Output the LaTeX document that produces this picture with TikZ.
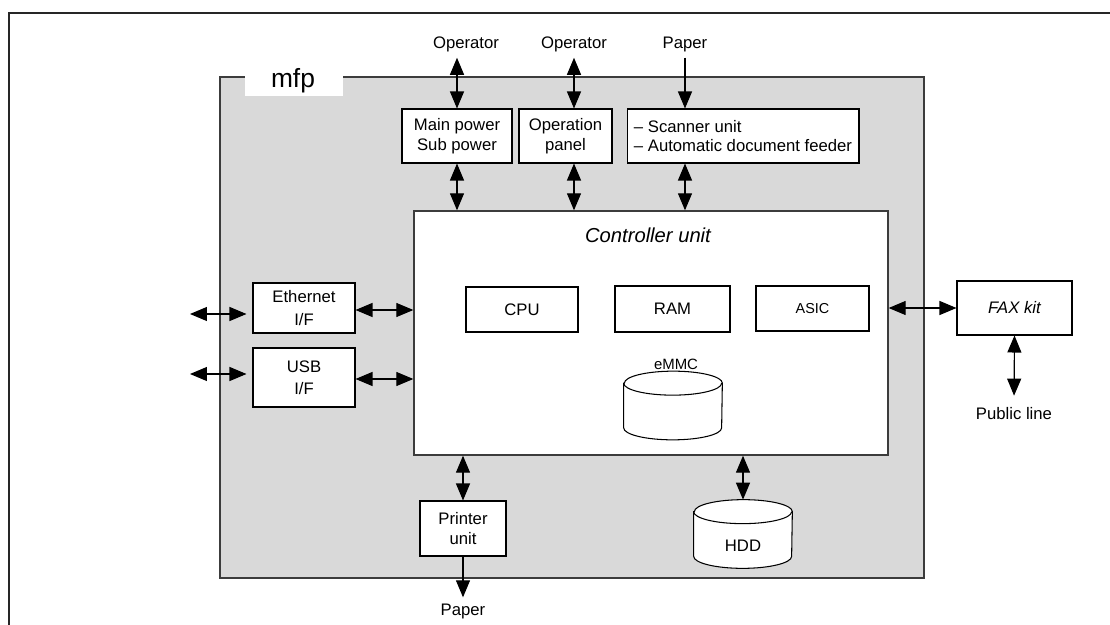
\documentclass[tikz,border=0pt]{standalone}
\usepackage{fontspec}
\setmainfont{Liberation Sans}
\usetikzlibrary{arrows.meta}

\definecolor{mfpgray}{RGB}{217,217,217}
\definecolor{mfpedge}{RGB}{60,60,60}

% upright disk outline round a named (empty) node
\newcommand{\drawdrum}[1]{%
  \draw[fill=white, line width=0.6pt] ([yshift=-0.24cm]#1.north west) -- ([yshift=0.24cm]#1.south west)
    arc[start angle=180, end angle=360, x radius=0.98cm, y radius=0.24cm]
    -- ([yshift=-0.24cm]#1.north east)
    arc[start angle=0, end angle=180, x radius=0.98cm, y radius=0.24cm] -- cycle;
  \draw[line width=0.6pt] ([yshift=-0.24cm]#1.north west)
    arc[start angle=180, end angle=360, x radius=0.98cm, y radius=0.24cm];}

\begin{document}
\begin{tikzpicture}[x=0.02cm, y=-0.02cm,
    font=\fontsize{9.5}{11.3}\selectfont,
    unit/.style ={draw, fill=white, line width=0.6pt, inner sep=0pt, align=center},
    drum/.style ={inner sep=0pt, minimum width=1.96cm, minimum height=1.36cm},
    link/.style ={line width=0.65pt, {Triangle[length=0.34cm,width=0.28cm]}-{Triangle[length=0.34cm,width=0.28cm]}},
    feed/.style ={line width=0.65pt, -{Triangle[length=0.34cm,width=0.28cm]}}]
   \useasboundingbox (0,0) rectangle (1110,625);

   % outer frame and mfp housing
   \draw[line width=1pt, black!85] (9,625) -- (9,13) -- (1110,13);
   \node[draw=mfpedge, fill=mfpgray, line width=1.1pt, minimum width=14.08cm, minimum height=10.02cm] (mfpbox) at (572,327.5) {};
   \node[fill=white, inner sep=0pt, minimum width=1.96cm, minimum height=0.4cm, anchor=north west] (mfptag) at (245,76) {};
   \node[font=\fontsize{15}{17}\selectfont] (mfplabel) at (293,81) {mfp};

   % outside ends
   \node (op1) at (466,44) {Operator};
   \node (op2) at (574,44) {Operator};
   \node (paperin) at (685,44) {Paper};
   \node (paperout) at (463,611) {Paper};
   \node (publine) at (1014,414) {Public line};
   \coordinate (ethout) at (190,314);
   \coordinate (usbout) at (190,374);

   % units
   \node[unit, minimum width=2.2cm, minimum height=1.08cm] (main) at (457,136) {Main power\\Sub power};
   \node[unit, minimum width=1.86cm, minimum height=1.08cm] (panel) at (565.5,136) {Operation\\panel};
   \node[unit, minimum width=4.64cm, minimum height=1.08cm, align=left] (scan) at (743,136) {\textendash\ Scanner unit\hspace{1.7cm}\\\textendash\ Automatic document feeder};
   \node[unit, line width=0.8pt, draw=mfpedge, minimum width=9.48cm, minimum height=4.88cm] (ctrl) at (651,333) {};
   \node[font=\fontsize{11.5}{13}\selectfont\itshape] (ctrltitle) at (648,235) {Controller unit};
   \node[unit, minimum width=2.24cm, minimum height=0.9cm] (cpu) at (522,309.5) {CPU};
   \node[unit, minimum width=2.3cm, minimum height=0.92cm] (ram) at (672.5,309) {RAM};
   \node[unit, minimum width=2.26cm, minimum height=0.9cm, font=\fontsize{8.2}{10}\selectfont] (asic) at (812.5,308.5) {ASIC};
   \node[unit, minimum width=2.04cm, minimum height=1.0cm, font=\fontsize{9.5}{12.8}\selectfont] (eth) at (304,308) {Ethernet\\I/F};
   \node[unit, minimum width=2.04cm, minimum height=1.18cm, font=\fontsize{9.5}{12.8}\selectfont] (usb) at (304,377.5) {USB\\I/F};
   \node[unit, minimum width=2.3cm, minimum height=1.08cm, font=\fontsize{9.5}{11}\selectfont\itshape] (fax) at (1014.5,308) {FAX kit};
   \node[unit, minimum width=1.72cm, minimum height=1.1cm] (prn) at (463,528.5) {Printer\\unit};

   % disks
   \node[drum] (emmc) at (673,405.5) {};
   \drawdrum{emmc}
   \node[font=\fontsize{8.5}{10}\selectfont] (emmclabel) at (676,364) {eMMC};
   \node[drum] (hdd) at (743,534) {};
   \drawdrum{hdd}
   \node (hddlabel) at (743,546) {HDD};

   % connections
   \draw[link] (op1.south -| main.north) to (main.north);
   \draw[link] (main.south) to (main.south |- ctrl.north);
   \draw[link] (op2.south) to (op2.south |- panel.north);
   \draw[link] (op2 |- panel.south) to (op2 |- ctrl.north);
   \draw[feed] (paperin.south) to (paperin.south |- scan.north);
   \draw[link] (paperin |- scan.south) to (paperin |- ctrl.north);
   \draw[link, shorten >=0.12cm] (ethout) to (ethout -| eth.west);
   \draw[link, shorten >=0.12cm] (usbout) to (usbout -| usb.west);
   \draw[link] ([yshift=-0.04cm]eth.east) to ([yshift=-0.04cm]eth.east -| ctrl.west);
   \draw[link] ([yshift=-0.03cm]usb.east) to ([yshift=-0.03cm]usb.east -| ctrl.west);
   \draw[link] (fax.west -| ctrl.east) to (fax.west);
   \draw[link, shorten >=0.12cm] (fax.south) to (publine.north);
   \draw[link] (prn.north |- ctrl.south) to (prn.north);
   \draw[feed] (prn.south) to (paperout.north);
   \draw[link] (hdd.north |- ctrl.south) to (hdd.north);
 \end{tikzpicture}
\end{document}
